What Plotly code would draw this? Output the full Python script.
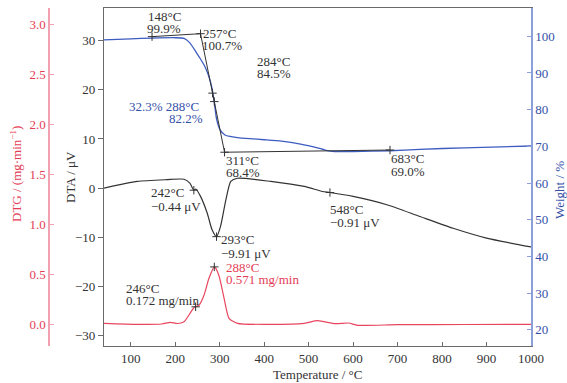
import plotly.graph_objects as go

# ---------------- data ----------------
# TG (weight %) curve
TG_T = [40, 100, 148, 200, 220, 233, 248, 257, 267, 275, 282, 288, 293, 301, 312, 323, 340, 368,
        400, 439, 470, 499, 520, 537, 559, 600, 683, 750, 850, 1000]
TG_W = [99.0, 99.3, 99.5, 99.6, 99.4, 98.2, 95.5, 93.8, 91.7, 89.3, 86.3, 82.0, 77.5, 74.5, 73.1,
        72.7, 72.4, 72.1, 71.8, 71.4, 70.9, 70.2, 69.6, 69.0, 68.6, 68.6, 68.8, 69.2, 69.6, 70.1]

# tangent construction on TG
TAN_T = [148, 257, 311, 683]
TAN_W = [99.9, 100.7, 68.4, 69.0]
TG_MARK_T = [148, 257, 284, 288, 311, 683]
TG_MARK_W = [99.9, 100.7, 84.5, 82.2, 68.4, 69.0]

# DTA curve (µV)
DTA_T = [40, 115, 180, 220, 233, 242, 246, 257, 272, 283, 293, 302, 314, 325, 340, 415, 490,
         531, 548, 600, 676, 750, 825, 900, 1000]
DTA_V = [0.0, 1.35, 1.7, 1.8, 1.0, -0.44, -0.2, -1.7, -5.1, -8.5, -9.91, -7.8, -2.4, 1.35, 2.0,
         1.35, 0.33, -0.7, -0.91, -1.7, -3.4, -5.8, -8.2, -10.2, -12.0]
DTA_MARK_T = [242, 293, 548]
DTA_MARK_V = [-0.44, -9.91, -0.91]

# DTG curve (mg/min)
DTG_T = [40, 115, 170, 189, 205, 220, 231, 242, 246, 254, 265, 276, 288, 298, 310, 321, 340, 415,
         490, 520, 560, 590, 610, 700, 850, 1000]
DTG_V = [0.007, -0.003, 0.0, 0.017, 0.005, 0.023, 0.09, 0.163, 0.172, 0.19, 0.29, 0.457, 0.571,
         0.49, 0.257, 0.057, 0.007, -0.003, 0.007, 0.033, 0.003, 0.01, -0.013, -0.007, -0.005, -0.003]
DTG_MARK_T = [246, 288]
DTG_MARK_V = [0.172, 0.571]

X_TICKS = [100, 200, 300, 400, 500, 600, 700, 800, 900, 1000]
DTA_TICKS = [-30, -20, -10, 0, 10, 20, 30]
W_TICKS = [20, 30, 40, 50, 60, 70, 80, 90, 100]
DTG_TICKS = [0.0, 0.5, 1.0, 1.5, 2.0, 2.5, 3.0]

# ---------------- layout helpers ----------------
W, H = 567, 383
ML, MR, MT, MB = 40, 36, 8, 37
PW, PH = W - ML - MR, H - MT - MB


def px(x):
    return (x - ML) / PW


def py(y):
    return (H - MB - y) / PH


FONT = "Liberation Serif"
BLUE = "#3d5cc0"
BLUE_AX = "#8c9fd8"
BLUE_TXT = "#3550a8"
RED = "#e8465e"
RED_AX = "#f2a0b0"
RED_TXT = "#e43c55"
BLACK = "#333333"
GRAY_AX = "#6a6a6a"

fig = go.Figure()

fig.add_trace(go.Scatter(x=TG_T, y=TG_W, yaxis="y2", mode="lines",
                         line=dict(color=BLUE, width=1.3, shape="spline", smoothing=0.6)))
fig.add_trace(go.Scatter(x=TAN_T, y=TAN_W, yaxis="y2", mode="lines",
                         line=dict(color=BLACK, width=1)))
fig.add_trace(go.Scatter(x=TG_MARK_T, y=TG_MARK_W, yaxis="y2", mode="markers",
                         marker=dict(symbol="cross-thin", size=6, line=dict(width=1, color=BLACK))))

fig.add_trace(go.Scatter(x=DTA_T, y=DTA_V, mode="lines",
                         line=dict(color=BLACK, width=1.2, shape="spline", smoothing=0.6)))
fig.add_trace(go.Scatter(x=DTA_MARK_T, y=DTA_MARK_V, mode="markers",
                         marker=dict(symbol="cross-thin", size=6, line=dict(width=1, color=BLACK))))

fig.add_trace(go.Scatter(x=DTG_T, y=DTG_V, yaxis="y3", mode="lines",
                         line=dict(color=RED, width=1.2, shape="spline", smoothing=0.6)))
fig.add_trace(go.Scatter(x=DTG_MARK_T, y=DTG_MARK_V, yaxis="y3", mode="markers",
                         marker=dict(symbol="cross-thin", size=6, line=dict(width=1, color=BLACK))))

ann = []


def txt(x, y, s, color=BLACK):
    ann.append(dict(x=px(x), y=py(y), xref="paper", yref="paper", text=s, showarrow=False,
                    xanchor="left", yanchor="middle", font=dict(family=FONT, size=13, color=color),
                    borderpad=0))


txt(147, 16, "148°C"); txt(146, 28.3, "99.9%")
txt(202, 33.3, "257°C"); txt(201, 45, "100.7%")
txt(255.5, 61, "284°C"); txt(255.5, 73.3, "84.5%")
txt(128, 106, "32.3% 288°C", BLUE_TXT); txt(168, 118.3, "82.2%", BLUE_TXT)
txt(224.5, 160.5, "311°C"); txt(224.5, 172.8, "68.4%")
txt(149.5, 192, "242°C"); txt(149.5, 206.5, "−0.44 μV")
txt(219.5, 239, "293°C"); txt(219.5, 253, "−9.91 μV")
txt(389.5, 159, "683°C"); txt(389.5, 171.5, "69.0%")
txt(329, 209, "548°C"); txt(329, 222.5, "−0.91 μV")
txt(124.5, 288, "246°C"); txt(124.5, 300.8, "0.172 mg/min")
txt(224.5, 267.5, "288°C", RED_TXT); txt(224.5, 279, "0.571 mg/min", RED_TXT)

# axis titles
ann.append(dict(x=px(317), y=py(374), xref="paper", yref="paper", text="Temperature / °C",
                showarrow=False, xanchor="center", yanchor="middle",
                font=dict(family=FONT, size=13, color=BLACK)))
ann.append(dict(x=px(70), y=py(177), xref="paper", yref="paper", text="DTA / μV",
                showarrow=False, textangle=-90, xanchor="center", yanchor="middle",
                font=dict(family=FONT, size=13, color=BLACK)))
ann.append(dict(x=px(16), y=py(174), xref="paper", yref="paper",
                text="DTG / (mg·min<sup>−1</sup>)",
                showarrow=False, textangle=-90, xanchor="center", yanchor="middle",
                font=dict(family=FONT, size=13, color=RED_TXT)))
ann.append(dict(x=px(559), y=py(190), xref="paper", yref="paper", text="Weight / %",
                showarrow=False, textangle=-90, xanchor="center", yanchor="middle",
                font=dict(family=FONT, size=13, color=BLUE_TXT)))

fig.update_layout(
    width=W, height=H,
    margin=dict(l=ML, r=MR, t=MT, b=MB),
    paper_bgcolor="white", plot_bgcolor="white",
    showlegend=False,
    font=dict(family=FONT, size=13, color=BLACK),
    annotations=ann,
    xaxis=dict(domain=[px(104), 1], range=[40, 1000], tickvals=X_TICKS,
               ticks="inside", ticklen=4, tickcolor=GRAY_AX,
               showline=True, linecolor=GRAY_AX, linewidth=1.2, mirror=True,
               showgrid=False, zeroline=False,
               tickfont=dict(family=FONT, size=13, color=BLACK)),
    yaxis=dict(range=[-32.2, 36.7], tickvals=DTA_TICKS,
               ticks="outside", ticklen=5, tickcolor=GRAY_AX,
               showline=True, linecolor=GRAY_AX, linewidth=1.2,
               showgrid=False, zeroline=False,
               tickfont=dict(family=FONT, size=13, color=BLACK)),
    yaxis2=dict(range=[15.6, 107.7], tickvals=W_TICKS, overlaying="y", side="right",
                anchor="x", ticks="inside", ticklen=4, tickcolor=BLUE_AX,
                showline=True, linecolor=BLUE_AX, linewidth=1.5,
                showgrid=False, zeroline=False,
                tickfont=dict(family=FONT, size=13, color=BLUE_TXT)),
    yaxis3=dict(range=[-0.22, 3.16], tickvals=DTG_TICKS, tickformat=".1f",
                overlaying="y", side="left", anchor="free", position=px(49),
                ticks="inside", ticklen=4, tickcolor=RED_AX,
                showline=True, linecolor=RED_AX, linewidth=1.5,
                showgrid=False, zeroline=False,
                tickfont=dict(family=FONT, size=13, color=RED_TXT)),
)

fig.write_html("out.html", config={"displayModeBar": False},
               post_script="document.body.style.margin='0';document.body.style.padding='0';")
